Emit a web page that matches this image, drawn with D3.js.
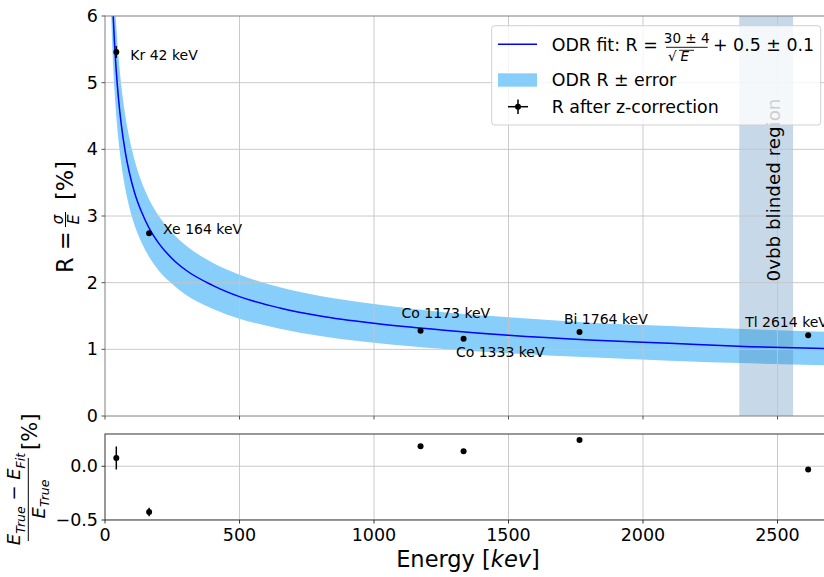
<!DOCTYPE html>
<html><head><meta charset="utf-8">
<script src="https://cdn.jsdelivr.net/npm/d3@7/dist/d3.min.js"></script>
<style>body{margin:0;background:#fff} svg{display:block} text{font-family:"DejaVu Sans",sans-serif;fill:#000}</style>
</head><body><svg id="c" width="824" height="577"></svg>
<script>
// ---------- data ----------
const sources = ["Kr","Xe","Co","Co","Bi","Tl"];
const energies = [42,164,1173,1333,1764,2614];
const energyErr = [1.5,1.5,1.5,1.5,1.5,1.5];
const resolution = [5.46,2.74,1.28,1.16,1.26,1.21];
const resolutionErr = [0.09,0.02,0.01,0.01,0.01,0.01];
const residuals = [0.077,-0.426,0.185,0.139,0.244,-0.03];
const residualErr = [0.107,0.04,0.01,0.01,0.01,0.01];
const fitEnergy = [15,20,25,30,35,42,50,60,75,90,110,135,165,200,250,300,400,500,650,800,1000,1250,1500,1800,2100,2400,2700];
const fitR     = [8.37,7.30,6.58,6.04,5.62,5.17,4.77,4.39,3.97,3.66,3.35,3.07,2.81,2.59,2.36,2.19,1.96,1.79,1.62,1.50,1.39,1.29,1.21,1.14,1.09,1.04,1.01];
const bandLow  = [7.38,6.42,5.77,5.28,4.91,4.50,4.14,3.80,3.42,3.14,2.86,2.61,2.38,2.18,1.98,1.82,1.61,1.46,1.31,1.20,1.10,1.01,0.94,0.88,0.83,0.79,0.76];
const bandHigh = [9.36,8.19,7.39,6.79,6.34,5.84,5.40,4.98,4.52,4.18,3.84,3.52,3.24,3.00,2.75,2.56,2.30,2.12,1.93,1.80,1.68,1.56,1.48,1.40,1.35,1.30,1.26];
const blindedRegion = [2358, 2558];
const xTicks = [0,500,1000,1500,2000,2500];
const yTicks = [0,1,2,3,4,5,6];
const resTicks = [-0.5,0.0];

// ---------- layout ----------
const svg = d3.select("#c");
const x = d3.scaleLinear().domain([0,2700]).range([105,831.3]);
const y = d3.scaleLinear().domain([0,6]).range([416,16]);
const yr = d3.scaleLinear().domain([-0.5,0.3]).range([520,434]);
const gridCol = "#c4c4c4";
const TF = "17.5px";

const defs = svg.append("defs");
defs.append("clipPath").attr("id","clipMain").append("rect").attr("x",105).attr("y",16).attr("width",730).attr("height",400);
defs.append("clipPath").attr("id","clipRes").append("rect").attr("x",105).attr("y",434).attr("width",730).attr("height",86);

// ---------- main panel ----------
const main = svg.append("g").attr("clip-path","url(#clipMain)");
const fitData = fitEnergy.map((e,i)=>({e, r:fitR[i], lo:bandLow[i], hi:bandHigh[i]}));
main.append("path").datum(fitData)
  .attr("d", d3.area().x(d=>x(d.e)).y0(d=>y(d.lo)).y1(d=>y(d.hi)).curve(d3.curveMonotoneX))
  .attr("fill","#87CEFA");
main.append("rect").attr("x",x(blindedRegion[0])).attr("width",x(blindedRegion[1])-x(blindedRegion[0]))
  .attr("y",16).attr("height",400).attr("fill","steelblue").attr("opacity",0.3);
// grid
main.selectAll(".gx").data(xTicks.slice(1)).enter().append("line")
  .attr("x1",d=>x(d)).attr("x2",d=>x(d)).attr("y1",16).attr("y2",416).attr("stroke",gridCol).attr("stroke-width",0.9);
main.selectAll(".gy").data(yTicks.slice(1,-1)).enter().append("line")
  .attr("x1",105).attr("x2",831).attr("y1",d=>y(d)).attr("y2",d=>y(d)).attr("stroke",gridCol).attr("stroke-width",0.9);
main.append("path").datum(fitData)
  .attr("d", d3.line().x(d=>x(d.e)).y(d=>y(d.r)).curve(d3.curveMonotoneX))
  .attr("fill","none").attr("stroke","#0000ff").attr("stroke-width",1.5);
// points
const pts = energies.map((e,i)=>({e, r:resolution[i], re:resolutionErr[i], ee:energyErr[i], res:residuals[i], rese:residualErr[i], lab:`${sources[i]} ${e} keV`}));
main.selectAll(".ey").data(pts).enter().append("line")
  .attr("x1",d=>x(d.e)).attr("x2",d=>x(d.e)).attr("y1",d=>y(d.r-d.re)).attr("y2",d=>y(d.r+d.re)).attr("stroke","#000").attr("stroke-width",1.5);
main.selectAll(".ex").data(pts).enter().append("line")
  .attr("x1",d=>x(d.e-d.ee)).attr("x2",d=>x(d.e+d.ee)).attr("y1",d=>y(d.r)).attr("y2",d=>y(d.r)).attr("stroke","#000").attr("stroke-width",1.5);
main.selectAll(".pt").data(pts).enter().append("circle")
  .attr("cx",d=>x(d.e)).attr("cy",d=>y(d.r)).attr("r",3).attr("fill","#000");
// point labels
const labOff = [[14,3],[14,-4],[-19,-18],[-7.7,13.3],[-15.6,-12.7],[-63,-13]];
main.selectAll(".lab").data(pts).enter().append("text")
  .attr("x",(d,i)=>x(d.e)+labOff[i][0]).attr("y",(d,i)=>y(d.r)+labOff[i][1])
  .attr("dominant-baseline","central").style("font-size","14px").text(d=>d.lab);
// blinded label
svg.append("text").attr("transform",`translate(780,${190}) rotate(-90)`).attr("text-anchor","middle")
  .style("font-size","18.3px").text("0vbb blinded region");

// spines & ticks main
svg.append("rect").attr("x",105).attr("y",16).attr("width",740).attr("height",400).attr("fill","none").attr("stroke","#808080").attr("stroke-width",1);
yTicks.forEach(t=>{
  svg.append("line").attr("x1",101.5).attr("x2",105).attr("y1",y(t)).attr("y2",y(t)).attr("stroke","#555");
  svg.append("text").attr("x",98).attr("y",y(t)).attr("text-anchor","end").attr("dominant-baseline","central").style("font-size",TF).text(t);
});
xTicks.forEach(t=>{
  svg.append("line").attr("x1",x(t)).attr("x2",x(t)).attr("y1",416).attr("y2",419.5).attr("stroke","#555");
});

// main y label
{
  const g = svg.append("g").attr("transform","translate(73,216) rotate(-90)");
  g.append("text").attr("x",-57).attr("y",0).style("font-size","22.5px").text("R =");
  g.append("text").attr("x",-3.5).attr("y",-10.5).attr("text-anchor","middle").style("font-size","15px").style("font-style","italic").text("σ");
  g.append("line").attr("x1",-11).attr("x2",4).attr("y1",-7.5).attr("y2",-7.5).attr("stroke","#000").attr("stroke-width",1);
  g.append("text").attr("x",-3.5).attr("y",6).attr("text-anchor","middle").style("font-size","16px").style("font-style","italic").text("E");
  g.append("text").attr("x",16).attr("y",0).style("font-size","22.5px").text("[%]");
}

// ---------- residual panel ----------
const res = svg.append("g").attr("clip-path","url(#clipRes)");
res.selectAll(".gx").data(xTicks.slice(1)).enter().append("line")
  .attr("x1",d=>x(d)).attr("x2",d=>x(d)).attr("y1",434).attr("y2",520).attr("stroke",gridCol).attr("stroke-width",0.9);
res.selectAll(".gy").data(resTicks).enter().append("line")
  .attr("x1",105).attr("x2",831).attr("y1",d=>yr(d)).attr("y2",d=>yr(d)).attr("stroke",gridCol).attr("stroke-width",0.9);
svg.selectAll(".rey").data(pts).enter().append("line")
  .attr("x1",d=>x(d.e)).attr("x2",d=>x(d.e)).attr("y1",d=>yr(d.res-d.rese)).attr("y2",d=>yr(d.res+d.rese)).attr("stroke","#000").attr("stroke-width",1.5);
svg.selectAll(".rpt").data(pts).enter().append("circle")
  .attr("cx",d=>x(d.e)).attr("cy",d=>yr(d.res)).attr("r",3).attr("fill","#000");
svg.append("rect").attr("x",105).attr("y",434).attr("width",740).attr("height",86).attr("fill","none").attr("stroke","#333").attr("stroke-width",1);
resTicks.forEach(t=>{
  svg.append("line").attr("x1",101.5).attr("x2",105).attr("y1",yr(t)).attr("y2",yr(t)).attr("stroke","#333");
  svg.append("text").attr("x",98).attr("y",yr(t)).attr("text-anchor","end").attr("dominant-baseline","central").style("font-size",TF).text(d3.format(".1f")(t).replace("-","−"));
});
xTicks.forEach(t=>{
  svg.append("line").attr("x1",x(t)).attr("x2",x(t)).attr("y1",520).attr("y2",523.5).attr("stroke","#333");
  svg.append("text").attr("x",x(t)).attr("y",541).attr("text-anchor","middle").style("font-size",TF).text(t);
});
// x label
{
  const t = svg.append("text").attr("x",468).attr("y",567).attr("text-anchor","middle").style("font-size","22.5px");
  t.append("tspan").text("Energy [");
  t.append("tspan").style("font-style","italic").text("kev");
  t.append("tspan").text("]");
}
// residual y label
{
  const g = svg.append("g").attr("transform","translate(28.3,499) rotate(-90)");
  const num = g.append("text").attr("x",0).attr("y",-8.3).attr("text-anchor","middle").style("font-size","18px").style("font-style","italic");
  num.append("tspan").text("E");
  num.append("tspan").attr("dy",4.5).style("font-size","12.5px").text("True");
  num.append("tspan").attr("dy",-4.5).style("font-style","normal").text(" − ");
  num.append("tspan").text("E");
  num.append("tspan").attr("dy",4.5).style("font-size","12.5px").text("Fit");
  g.append("line").attr("x1",-42).attr("x2",41).attr("y1",0).attr("y2",0).attr("stroke","#000").attr("stroke-width",1);
  const den = g.append("text").attr("x",0).attr("y",16.7).attr("text-anchor","middle").style("font-size","18px").style("font-style","italic");
  den.append("tspan").text("E");
  den.append("tspan").attr("dy",4.5).style("font-size","12.5px").text("True");
  g.append("text").attr("x",49).attr("y",8.5).style("font-size","21px").text("[%]");
}

// ---------- legend ----------
{
  const L = svg.append("g");
  L.append("rect").attr("x",491.7).attr("y",25.7).attr("width",329).attr("height",99.3).attr("rx",3)
    .attr("fill","#fff").attr("fill-opacity",0.8).attr("stroke","#d0d0d0").attr("stroke-width",1);
  L.append("line").attr("x1",498).attr("x2",537).attr("y1",44.3).attr("y2",44.3).attr("stroke","#0000ff").attr("stroke-width",1.5);
  L.append("text").attr("x",551.7).attr("y",51).style("font-size","17.4px").text("ODR fit: R =");
  L.append("text").attr("x",686.7).attr("y",43.3).attr("text-anchor","middle").style("font-size","13.5px").text("30 ± 4");
  L.append("line").attr("x1",666).attr("x2",707.7).attr("y1",47.3).attr("y2",47.3).attr("stroke","#000").attr("stroke-width",0.9);
  L.append("text").attr("x",668).attr("y",61).style("font-size","13.5px").text("√");
  L.append("line").attr("x1",679).attr("x2",694).attr("y1",50.3).attr("y2",50.3).attr("stroke","#000").attr("stroke-width",0.9);
  L.append("text").attr("x",680.5).attr("y",60.5).style("font-size","13.5px").style("font-style","italic").text("E");
  L.append("text").attr("x",713).attr("y",51).style("font-size","17.4px").text("+ 0.5 ± 0.1");
  L.append("rect").attr("x",498).attr("y",73.3).attr("width",39).attr("height",13.4).attr("fill","#87CEFA");
  L.append("text").attr("x",551.7).attr("y",80).attr("dominant-baseline","central").style("font-size","17.4px").text("ODR R ± error");
  L.append("line").attr("x1",508).attr("x2",528).attr("y1",106.7).attr("y2",106.7).attr("stroke","#000").attr("stroke-width",1.5);
  L.append("line").attr("x1",518).attr("x2",518).attr("y1",99.5).attr("y2",114).attr("stroke","#000").attr("stroke-width",1.5);
  L.append("circle").attr("cx",518).attr("cy",106.7).attr("r",3).attr("fill","#000");
  L.append("text").attr("x",551.7).attr("y",106.7).attr("dominant-baseline","central").style("font-size","17.4px").text("R after z-correction");
}
</script></body></html>
